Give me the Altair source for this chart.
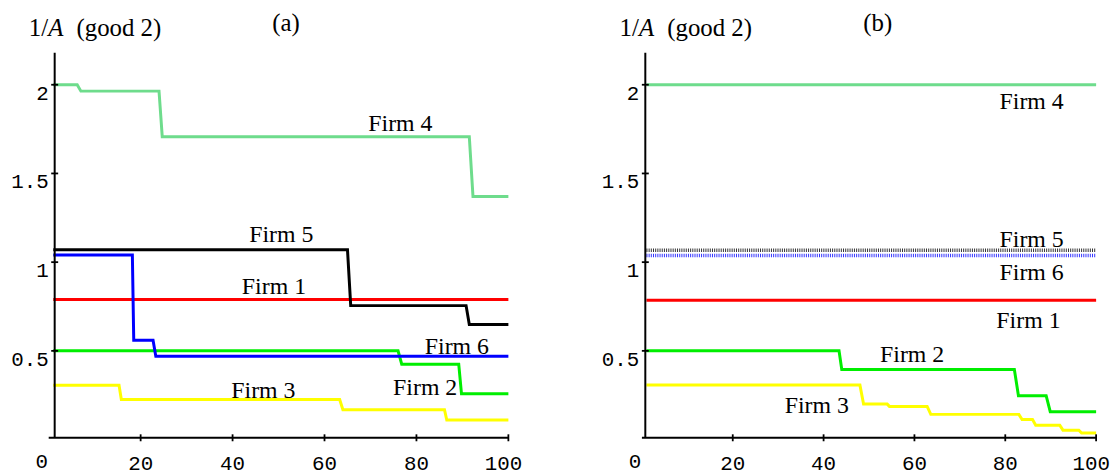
import altair as alt
import pandas as pd

firms = ["Firm 1", "Firm 2", "Firm 3", "Firm 4", "Firm 5", "Firm 6"]
colors = ["#ff0000", "#00ee00", "#ffff00", "#6edc8c", "#000000", "#0000ff"]

# ---------- panel (a) ----------
a_x = {
    "Firm 1": [1, 100],
    "Firm 2": [1, 76, 76.8, 89.2, 89.8, 100],
    "Firm 3": [1, 15.3, 15.8, 63.3, 64, 86.1, 86.6, 100],
    "Firm 4": [1, 6.2, 7, 24, 24.7, 91.5, 92.3, 100],
    "Firm 5": [1, 65, 65.7, 90.8, 91.5, 100],
    "Firm 6": [1, 18.2, 18.5, 22.7, 23.3, 100],
}
a_y = {
    "Firm 1": [0.79, 0.79],
    "Firm 2": [0.50, 0.50, 0.425, 0.425, 0.258, 0.258],
    "Firm 3": [0.306, 0.306, 0.226, 0.226, 0.168, 0.168, 0.11, 0.11],
    "Firm 4": [2.0, 2.0, 1.964, 1.964, 1.707, 1.707, 1.37, 1.37],
    "Firm 5": [1.07, 1.07, 0.755, 0.755, 0.648, 0.648],
    "Firm 6": [1.04, 1.04, 0.56, 0.56, 0.47, 0.47],
}
a_label_names = ["Firm 5", "Firm 1", "Firm 6", "Firm 2", "Firm 3", "Firm 4"]
a_label_x = [50.6, 49.0, 88.8, 81.9, 46.7, 76.5]
a_label_y = [1.155, 0.86, 0.519, 0.292, 0.274, 1.78]

# ---------- panel (b) ----------
b_x = {
    "Firm 1": [1, 100],
    "Firm 2": [1, 43.4, 44, 82, 82.9, 89, 89.9, 100],
    "Firm 3": [1, 48, 48.8, 54, 54.5, 62.8, 63.6, 83, 83.7, 86, 86.7, 92, 92.7, 96.2, 96.8, 100],
    "Firm 4": [1, 100],
}
b_y = {
    "Firm 1": [0.785, 0.785],
    "Firm 2": [0.5, 0.5, 0.395, 0.395, 0.247, 0.247, 0.157, 0.157],
    "Firm 3": [0.307, 0.307, 0.20, 0.20, 0.187, 0.187, 0.142, 0.142, 0.113, 0.113,
               0.081, 0.081, 0.053, 0.053, 0.037, 0.037],
    "Firm 4": [2.0, 2.0],
}
b_hatch_x = {"Firm 5": [1, 100], "Firm 6": [1, 100]}
b_hatch_y = {"Firm 5": [1.067, 1.067], "Firm 6": [1.037, 1.037]}
b_label_names = ["Firm 4", "Firm 5", "Firm 6", "Firm 1", "Firm 2", "Firm 3"]
b_label_x = [85.8, 85.8, 85.8, 85.1, 59.5, 38.5]
b_label_y = [1.90, 1.127, 0.94, 0.669, 0.476, 0.191]

# ---------- axes ----------
xtick_vals = [0, 20, 40, 60, 80, 100]
xtick_text = ["0", "20", "40", "60", "80", "100"]
ytick_vals = [0.5, 1.0, 1.5, 2.0]
ytick_text = ["0.5", "1", "1.5", "2"]

W, H = 556, 464
Y_DOM = [-0.1735, 2.4231]
A_XDOM = [-8.855, 111.23]
B_XDOM = [-18.033, 103.497]


def to_df(xd, yd):
    rows = []
    for f in xd:
        for i, (xv, yv) in enumerate(zip(xd[f], yd[f])):
            rows.append({"firm": f, "x": xv, "y": yv, "i": i})
    return pd.DataFrame(rows)


def panel(line_df, hatch_df, lab_names, lab_x, lab_y, xdom, yaxis_x, title_px, tag, tag_px):
    xs = alt.Scale(domain=xdom, nice=False, zero=False)
    ys = alt.Scale(domain=Y_DOM, nice=False, zero=False)
    one = pd.DataFrame({"k": [0]})
    xt = pd.DataFrame({"v": xtick_vals, "t": xtick_text})
    yt = pd.DataFrame({"v": ytick_vals, "t": ytick_text})
    labs = pd.DataFrame({"name": lab_names, "x": lab_x, "y": lab_y})
    cscale = alt.Scale(domain=firms, range=colors)

    layers = []
    layers.append(
        alt.Chart(line_df).mark_line(strokeWidth=3).encode(
            x=alt.X("x:Q", scale=xs, axis=None),
            y=alt.Y("y:Q", scale=ys, axis=None),
            color=alt.Color("firm:N", scale=cscale, legend=None),
            order="i:Q",
        )
    )
    if hatch_df is not None:
        layers.append(
            alt.Chart(hatch_df).mark_line(strokeWidth=3.5, strokeDash=[1, 1.2], opacity=0.8).encode(
                x=alt.X("x:Q", scale=xs, axis=None),
                y=alt.Y("y:Q", scale=ys, axis=None),
                color=alt.Color("firm:N", scale=cscale, legend=None),
                order="i:Q",
            )
        )
    # axis lines
    layers.append(
        alt.Chart(one).mark_rule(color="black", strokeWidth=2).encode(
            x=alt.XDatum(0, scale=xs, axis=None), x2=alt.X2Datum(100),
            y=alt.YDatum(0.01, scale=ys, axis=None),
        )
    )
    layers.append(
        alt.Chart(one).mark_rule(color="black", strokeWidth=2).encode(
            x=alt.XDatum(yaxis_x, scale=xs, axis=None),
            y=alt.YDatum(0.01, scale=ys, axis=None), y2=alt.Y2Datum(2.18),
        )
    )
    # ticks
    layers.append(
        alt.Chart(xt).transform_filter("datum.v > 0").mark_point(
            shape="M0,-1L0,1", size=49, filled=False, strokeWidth=1.8, color="black", opacity=1
        ).encode(x=alt.X("v:Q", scale=xs, axis=None), y=alt.YDatum(0.01, scale=ys, axis=None))
    )
    layers.append(
        alt.Chart(yt).mark_point(
            shape="M-1,0L1,0", size=49, filled=False, strokeWidth=1.8, color="black", opacity=1
        ).encode(x=alt.XDatum(yaxis_x, scale=xs, axis=None), y=alt.Y("v:Q", scale=ys, axis=None))
    )
    # tick labels
    tick_font = dict(font="Liberation Mono", fontSize=21, color="black", baseline="alphabetic")
    layers.append(
        alt.Chart(xt).transform_filter("datum.v > 0 && datum.v < 100").mark_text(
            align="center", dy=32, **tick_font
        ).encode(x=alt.X("v:Q", scale=xs, axis=None), y=alt.YDatum(0.01, scale=ys, axis=None), text="t:N")
    )
    layers.append(
        alt.Chart(xt).transform_filter("datum.v == 0").mark_text(
            align="center", dx=-7, dy=30, **tick_font
        ).encode(x=alt.X("v:Q", scale=xs, axis=None), y=alt.YDatum(0.01, scale=ys, axis=None), text="t:N")
    )
    layers.append(
        alt.Chart(xt).transform_filter("datum.v == 100").mark_text(
            align="center", dx=-5, dy=32, **tick_font
        ).encode(x=alt.X("v:Q", scale=xs, axis=None), y=alt.YDatum(0.01, scale=ys, axis=None), text="t:N")
    )
    layers.append(
        alt.Chart(yt).mark_text(align="right", dx=-6, dy=15, **tick_font).encode(
            x=alt.XDatum(yaxis_x, scale=xs, axis=None), y=alt.Y("v:Q", scale=ys, axis=None), text="t:N"
        )
    )
    # firm labels
    layers.append(
        alt.Chart(labs).mark_text(
            font="Liberation Serif", fontSize=24, color="black", align="center", baseline="middle"
        ).encode(x=alt.X("x:Q", scale=xs, axis=None), y=alt.Y("y:Q", scale=ys, axis=None), text="name:N")
    )
    # title pieces
    serif = dict(font="Liberation Serif", fontSize=25, color="black", baseline="alphabetic", align="left")
    layers.append(alt.Chart(one).mark_text(text="1/", **serif).encode(x=alt.value(title_px), y=alt.value(27)))
    layers.append(alt.Chart(one).mark_text(text="A", fontStyle="italic", **serif).encode(
        x=alt.value(title_px + 19.5), y=alt.value(27)))
    layers.append(alt.Chart(one).mark_text(text="(good 2)", **serif).encode(
        x=alt.value(title_px + 48), y=alt.value(27)))
    layers.append(alt.Chart(one).mark_text(
        text=tag, font="Liberation Serif", fontSize=25, color="black", baseline="alphabetic", align="center"
    ).encode(x=alt.value(tag_px), y=alt.value(21)))

    return alt.layer(*layers).properties(width=W, height=H)


left = panel(to_df(a_x, a_y), None, a_label_names, a_label_x, a_label_y, A_XDOM, 1.3, 21, "(a)", 280)
right = panel(to_df(b_x, b_y), to_df(b_hatch_x, b_hatch_y), b_label_names, b_label_x, b_label_y,
              B_XDOM, 0.75, 60, "(b)", 320)

chart = alt.hconcat(left, right, spacing=0, padding=0, background="white").configure_view(stroke=None)
chart.save("out.html", embed_options={"renderer": "svg", "actions": False})
